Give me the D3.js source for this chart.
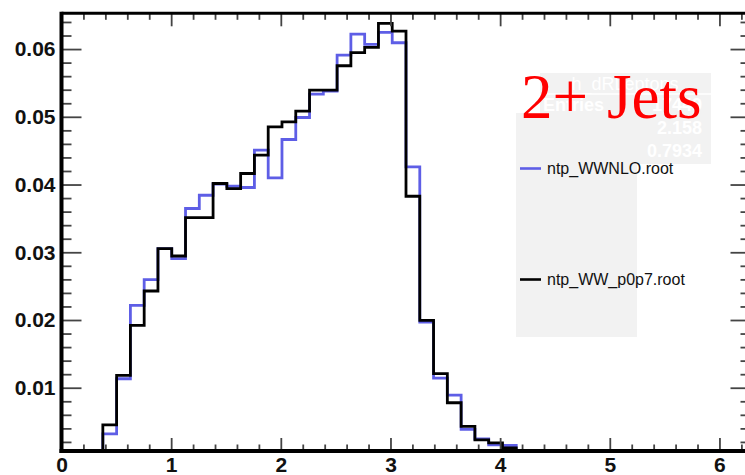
<!DOCTYPE html>
<html>
<head>
<meta charset="utf-8">
<script src="https://cdn.jsdelivr.net/npm/d3@7"></script>
<style>
  body { margin: 0; background: #fff; }
  svg { display: block; }
  .axis text { font-family: "Liberation Sans", Arial, sans-serif; font-weight: bold; font-size: 21px; fill: #111; }
  .axis line { stroke: #444; stroke-width: 1.8; }
  .stat { font-family: "Liberation Sans", Arial, sans-serif; font-size: 18px; font-weight: bold; fill: #fff; }
  .leg { font-family: "Liberation Sans", Arial, sans-serif; font-size: 16px; fill: #111; }
</style>
</head>
<body>
<div id="chart"></div>
<script>
// histogram h_dRLeptons, 50 bins from 0 to 2pi (normalised)
var nBins = 50;
var xMin = 0, xMax = 2 * Math.PI;

var seriesNames = ["ntp_WWNLO.root", "ntp_WW_p0p7.root"];
var seriesColors = ["#5e5ee6", "#000000"];

var valuesNLO = [0, 0, 0, 0.0032, 0.01133, 0.02216, 0.02596, 0.03054, 0.02907, 0.03646,
  0.03842, 0.04005, 0.03975, 0.03956, 0.04507, 0.04098, 0.04665, 0.0499, 0.05335, 0.0538,
  0.05911, 0.06222, 0.06069, 0.06247, 0.06093, 0.0426, 0.0197, 0.01142, 0.00892, 0.00384,
  0.00246, 0.00158, 0.00147, 0, 0, 0, 0, 0, 0, 0,
  0, 0, 0, 0, 0, 0, 0, 0, 0, 0];

var valuesP0p7 = [0, 0, 0, 0.00453, 0.01182, 0.01921, 0.02428, 0.03054, 0.02945, 0.03512,
  0.03512, 0.04015, 0.03941, 0.04163, 0.04433, 0.04852, 0.04926, 0.05084, 0.05394, 0.05394,
  0.05754, 0.05946, 0.06025, 0.0638, 0.06266, 0.03827, 0.01995, 0.01207, 0.00778, 0.0043,
  0.00231, 0.00187, 0.00113, 0, 0, 0, 0, 0, 0, 0,
  0, 0, 0, 0, 0, 0, 0, 0, 0, 0];

var xMajorTicks = [0, 1, 2, 3, 4, 5, 6];
var xTickLabels = ["0", "1", "2", "3", "4", "5", "6"];
var yMajorTicks = [0.01, 0.02, 0.03, 0.04, 0.05, 0.06];
var yTickLabels = ["0.01", "0.02", "0.03", "0.04", "0.05", "0.06"];

var statLabels = ["Entries", "Mean", "RMS"];
var statValues = ["17449", "2.158", "0.7934"];

var W = 745, H = 475;
var frame = { left: 61.5, right: 750.5, top: 13.3, bottom: 451 };

var svg = d3.select("#chart").append("svg")
  .attr("width", W)
  .attr("height", H);

var x = d3.scaleLinear().domain([xMin, xMax]).range([frame.left, frame.right]);
var y = d3.scaleLinear().domain([0.00066, 0.06528]).range([frame.bottom, frame.top]).clamp(true);

var binW = (xMax - xMin) / nBins;

// step outline like ROOT draws it
function stepPoints(vals) {
  var pts = [];
  vals.forEach(function (v, i) {
    pts.push([xMin + i * binW, v]);
    pts.push([xMin + (i + 1) * binW, v]);
  });
  return pts;
}

var line = d3.line()
  .x(function (d) { return x(d[0]); })
  .y(function (d) { return y(d[1]); });

svg.append("clipPath").attr("id", "frameClip")
  .append("rect")
  .attr("x", frame.left).attr("y", frame.top)
  .attr("width", frame.right - frame.left).attr("height", frame.bottom - frame.top);

var hists = svg.append("g").attr("clip-path", "url(#frameClip)");
[valuesNLO, valuesP0p7].forEach(function (vals, k) {
  hists.append("path")
    .attr("d", line(stepPoints(vals)))
    .attr("fill", "none")
    .attr("stroke", seriesColors[k])
    .attr("stroke-width", 2.8)
    .attr("stroke-linejoin", "miter");
});

// minor ticks
var xMinor = d3.range(0, 6.3, 0.2).filter(function (v) { return Math.abs(v - Math.round(v)) > 0.01; });
var yMinor = d3.range(0.002, 0.0652, 0.002).filter(function (v) { return Math.abs(v * 100 - Math.round(v * 100)) > 0.01; });

function noDomain(g) { g.select(".domain").remove(); }

// bottom axis
svg.append("g").attr("class", "axis")
  .attr("transform", "translate(0," + frame.bottom + ")")
  .call(d3.axisBottom(x).tickValues(xMajorTicks).tickSize(-13).tickPadding(6)
    .tickFormat(function (d, i) { return xTickLabels[i]; }))
  .call(noDomain);
svg.append("g").attr("class", "axis")
  .attr("transform", "translate(0," + frame.bottom + ")")
  .call(d3.axisBottom(x).tickValues(xMinor).tickSize(-6.5).tickFormat(""))
  .call(noDomain);

// top axis
svg.append("g").attr("class", "axis")
  .attr("transform", "translate(0," + frame.top + ")")
  .call(d3.axisTop(x).tickValues(xMajorTicks).tickSize(-13).tickFormat(""))
  .call(noDomain);
svg.append("g").attr("class", "axis")
  .attr("transform", "translate(0," + frame.top + ")")
  .call(d3.axisTop(x).tickValues(xMinor).tickSize(-6.5).tickFormat(""))
  .call(noDomain);

// left axis
svg.append("g").attr("class", "axis")
  .attr("transform", "translate(" + frame.left + ",0)")
  .call(d3.axisLeft(y).tickValues(yMajorTicks).tickSize(-20).tickPadding(6)
    .tickFormat(function (d, i) { return yTickLabels[i]; }))
  .call(noDomain);
svg.append("g").attr("class", "axis")
  .attr("transform", "translate(" + frame.left + ",0)")
  .call(d3.axisLeft(y).tickValues(yMinor).tickSize(-10).tickFormat(""))
  .call(noDomain);

// right axis
svg.append("g").attr("class", "axis")
  .attr("transform", "translate(" + frame.right + ",0)")
  .call(d3.axisRight(y).tickValues(yMajorTicks).tickSize(-20).tickFormat(""))
  .call(noDomain);
svg.append("g").attr("class", "axis")
  .attr("transform", "translate(" + frame.right + ",0)")
  .call(d3.axisRight(y).tickValues(yMinor).tickSize(-10).tickFormat(""))
  .call(noDomain);

// frame
svg.append("line").attr("x1", frame.left).attr("x2", frame.left)
  .attr("y1", frame.top - 1.5).attr("y2", frame.bottom + 2)
  .attr("stroke", "#000").attr("stroke-width", 4);
svg.append("line").attr("x1", frame.left - 2).attr("x2", frame.right)
  .attr("y1", frame.bottom).attr("y2", frame.bottom)
  .attr("stroke", "#000").attr("stroke-width", 4);
svg.append("line").attr("x1", frame.left).attr("x2", frame.right)
  .attr("y1", frame.top).attr("y2", frame.top)
  .attr("stroke", "#000").attr("stroke-width", 3);
svg.append("line").attr("x1", frame.right).attr("x2", frame.right)
  .attr("y1", frame.top).attr("y2", frame.bottom)
  .attr("stroke", "#000").attr("stroke-width", 3);

// stats box
var stats = svg.append("g");
stats.append("rect").attr("x", 540).attr("y", 73).attr("width", 171).attr("height", 91).attr("fill", "#f2f2f2");
stats.append("line").attr("x1", 543).attr("x2", 711).attr("y1", 94).attr("y2", 94)
  .attr("stroke", "#fff").attr("stroke-width", 1.5);
stats.append("text").attr("class", "stat").attr("x", 625).attr("y", 89.5)
  .attr("text-anchor", "middle").style("font-weight", "normal").text("h_dRLeptons");
statLabels.forEach(function (lab, i) {
  stats.append("text").attr("class", "stat").attr("x", 543).attr("y", 111 + i * 23).text(lab);
  stats.append("text").attr("class", "stat").attr("x", 702).attr("y", 111 + i * 23)
    .attr("text-anchor", "end").text(statValues[i]);
});

// legend box drawn over the stats
var legend = svg.append("g");
legend.append("rect").attr("x", 516).attr("y", 113).attr("width", 121).attr("height", 224).attr("fill", "#f2f2f2");
seriesNames.forEach(function (name, k) {
  var ly = k === 0 ? 168.5 : 279.5;
  legend.append("line").attr("x1", 520).attr("x2", 541).attr("y1", ly).attr("y2", ly)
    .attr("stroke", seriesColors[k]).attr("stroke-width", 2.6);
  legend.append("text").attr("class", "leg").attr("x", 547).attr("y", ly + 5.5).text(name);
});

// label
var lab = svg.append("text")
  .attr("y", 117.5)
  .style("font-family", "'Liberation Serif', 'Times New Roman', serif")
  .style("font-size", "63px")
  .style("fill", "#ff0000");
lab.append("tspan").attr("x", 521).text("2+");
lab.append("tspan").attr("x", 607).text("Jets");
</script>
</body>
</html>
